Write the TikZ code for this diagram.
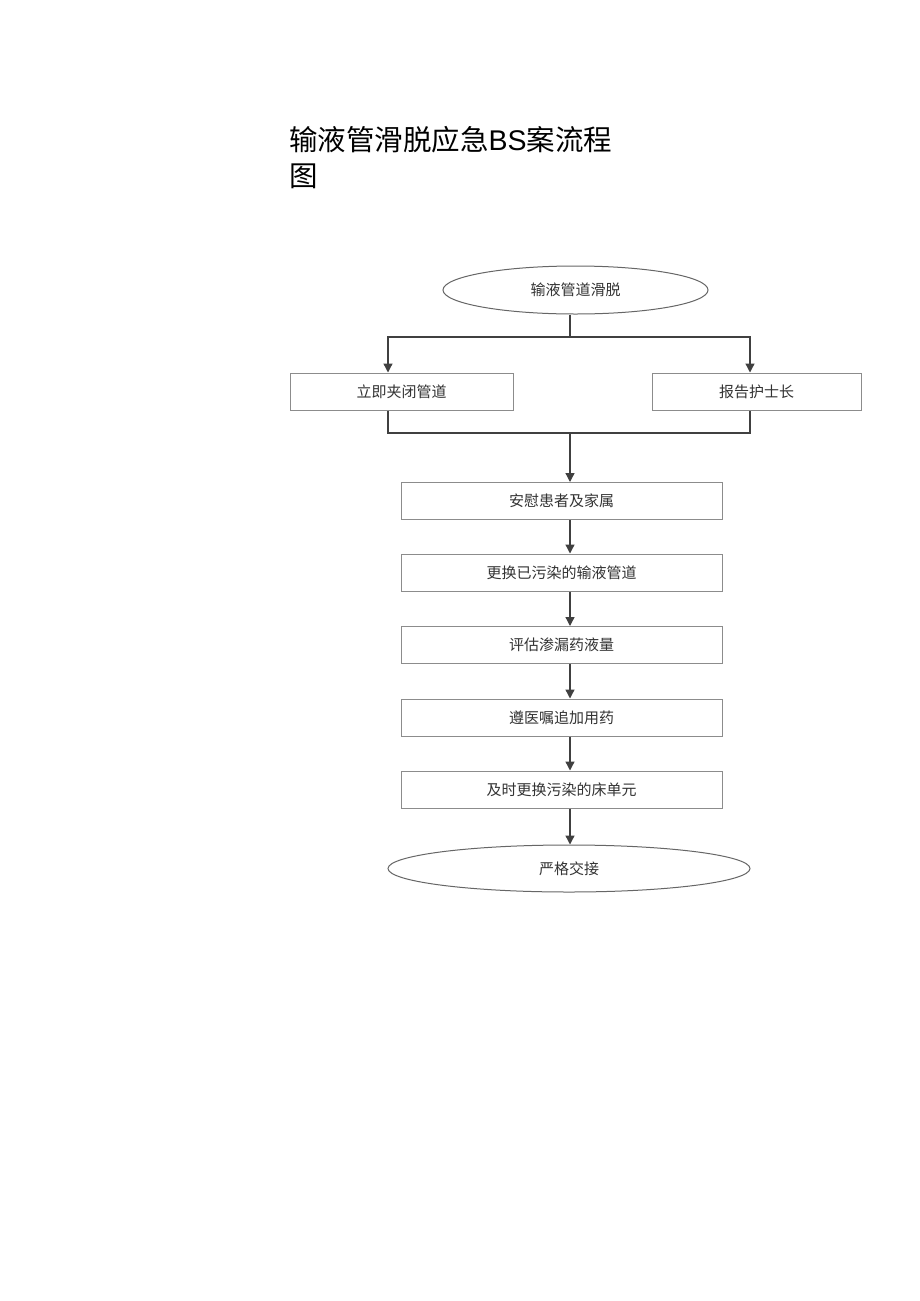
\documentclass[tikz,border=0pt]{standalone}
\usepackage{fontspec}
\newfontfamily\cjk{Noto Sans CJK SC}
\newfontfamily\arial{Liberation Sans}
\usetikzlibrary{shapes.geometric,arrows.meta}
\begin{document}
\begin{tikzpicture}[x=1pt,y=-1pt,
  lbl/.style={font=\cjk\fontsize{15}{15}\selectfont, text=black!80},
  stepbox/.style={lbl, draw=black!45, line width=1pt, rectangle, inner sep=0pt, minimum height=37pt},
  endbox/.style={lbl, draw=black!60, line width=1pt, ellipse, inner sep=0pt},
  conn/.style={draw=black!75, line width=1.3pt},
  arr/.style={conn, -{Triangle[width=9pt,length=9pt]}},
  ttl/.style={font=\cjk\fontsize{28.5}{28.5}\selectfont, text=black, inner sep=0pt, anchor=west}
]
\useasboundingbox (0,0) rectangle (920,1301);
\fill[white] (0,0) rectangle (920,1301);

\node[ttl] (t1) at (289,140) {输液管滑脱应急{\arial BS}案流程};
\node[ttl] (t2) at (289,176) {图};

\node[endbox, minimum width=265pt, minimum height=48pt] (top) at (575.5,290) {输液管道滑脱};
\node[stepbox, minimum width=223pt] (left) at (401.5,391.5) {立即夹闭管道};
\node[stepbox, minimum width=209pt] (right) at (756.5,391.5) {报告护士长};
\node[stepbox, minimum width=321pt] (b1) at (561.5,501) {安慰患者及家属};
\node[stepbox, minimum width=321pt] (b2) at (561.5,572.5) {更换已污染的输液管道};
\node[stepbox, minimum width=321pt] (b3) at (561.5,645) {评估渗漏药液量};
\node[stepbox, minimum width=321pt] (b4) at (561.5,717.5) {遵医嘱追加用药};
\node[stepbox, minimum width=321pt] (b5) at (561.5,789.5) {及时更换污染的床单元};
\node[endbox, minimum width=362pt, minimum height=47pt] (bot) at (569,868.5) {严格交接};

\coordinate (s) at (570,337);
\coordinate (sl) at (388,337);
\coordinate (sr) at (750,337);
\coordinate (m) at (570,433);
\coordinate (ml) at (388,433);
\coordinate (mr) at (750,433);

\draw[conn] (s |- top.south) -- (s);
\draw[arr] (s) -- (sl) -- (sl |- left.north);
\draw[arr] (s) -- (sr) -- (sr |- right.north);
\draw[conn] (ml |- left.south) -- (ml) -- (mr) -- (mr |- right.south);
\draw[arr] (m) -- (m |- b1.north);
\draw[arr] (m |- b1.south) -- (m |- b2.north);
\draw[arr] (m |- b2.south) -- (m |- b3.north);
\draw[arr] (m |- b3.south) -- (m |- b4.north);
\draw[arr] (m |- b4.south) -- (m |- b5.north);
\draw[arr] (m |- b5.south) -- (m |- bot.north);
\end{tikzpicture}
\end{document}
